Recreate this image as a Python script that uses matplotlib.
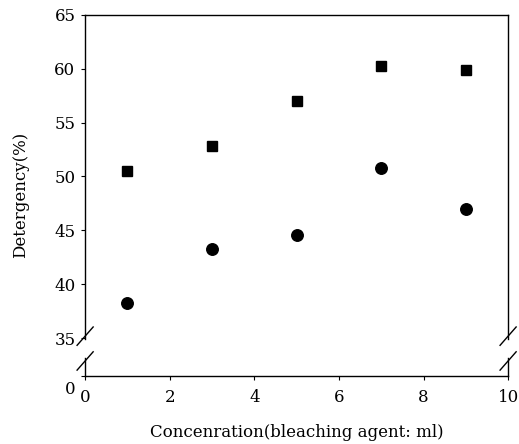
import matplotlib
matplotlib.use("Agg")
import matplotlib.pyplot as plt
import matplotlib.transforms as mtransforms

# data
conc = [1, 3, 5, 7, 9]
square_vals = [50.5, 52.8, 57.0, 60.2, 59.9]
circle_vals = [38.3, 43.3, 44.6, 50.8, 47.0]

y_ticks = [35, 40, 45, 50, 55, 60, 65]
x_ticks = [0, 2, 4, 6, 8, 10]

# the axis is broken: "0" sits at the bottom of the drawn range
y_bottom = 31.5
y_top = 65

plt.rcParams['font.family'] = ['DejaVu Serif', 'Liberation Serif']

fig = plt.figure(figsize=(5.19, 4.44), dpi=100)
ax = fig.add_axes([0.164, 0.153, 0.815, 0.814])

ax.plot(conc, square_vals, 's', color='black', markersize=7.5, linestyle='none')
ax.plot(conc, circle_vals, 'o', color='black', markersize=8.3, linestyle='none')

ax.set_xlim(0, 10)
ax.set_ylim(y_bottom, y_top)
ax.set_xticks(x_ticks)
ax.set_xticklabels([str(t) for t in x_ticks])
ax.set_yticks([y_bottom] + y_ticks)
ax.set_yticklabels(['0'] + [str(t) for t in y_ticks])
ax.tick_params(axis='both', direction='out', length=3, width=0.8, labelsize=12)
ax.tick_params(axis='x', pad=6)
ax.tick_params(axis='y', pad=4)

# the "0" on the y axis sits a little lower than the spine
zero_lbl = ax.get_yticklabels()[0]
zero_lbl.set_transform(zero_lbl.get_transform() +
                       mtransforms.ScaledTranslation(0, -8 / 72, fig.dpi_scale_trans))

ax.set_xlabel('Concenration(bleaching agent: ml)', fontsize=12, labelpad=13)
ax.set_ylabel('Detergency(%)', fontsize=12, labelpad=18)

# spines with a gap where the axis is broken
gap_lo, gap_hi = 33.2, 34.9
for side in ('left', 'right'):
    ax.spines[side].set_bounds(gap_hi, y_top)
    ax.spines[side].set_linewidth(1.0)
ax.spines['top'].set_linewidth(1.0)
ax.spines['bottom'].set_linewidth(1.0)

for xpos in (0, 10):
    ax.plot([xpos, xpos], [y_bottom, gap_lo], color='black', lw=1.0,
            clip_on=False)
    for yc in (gap_hi + 0.3, gap_lo - 0.3):
        ax.plot([xpos - 0.19, xpos + 0.19], [yc - 0.85, yc + 0.85],
                color='black', lw=1.0, clip_on=False)

fig.savefig('out.png', dpi=100)
